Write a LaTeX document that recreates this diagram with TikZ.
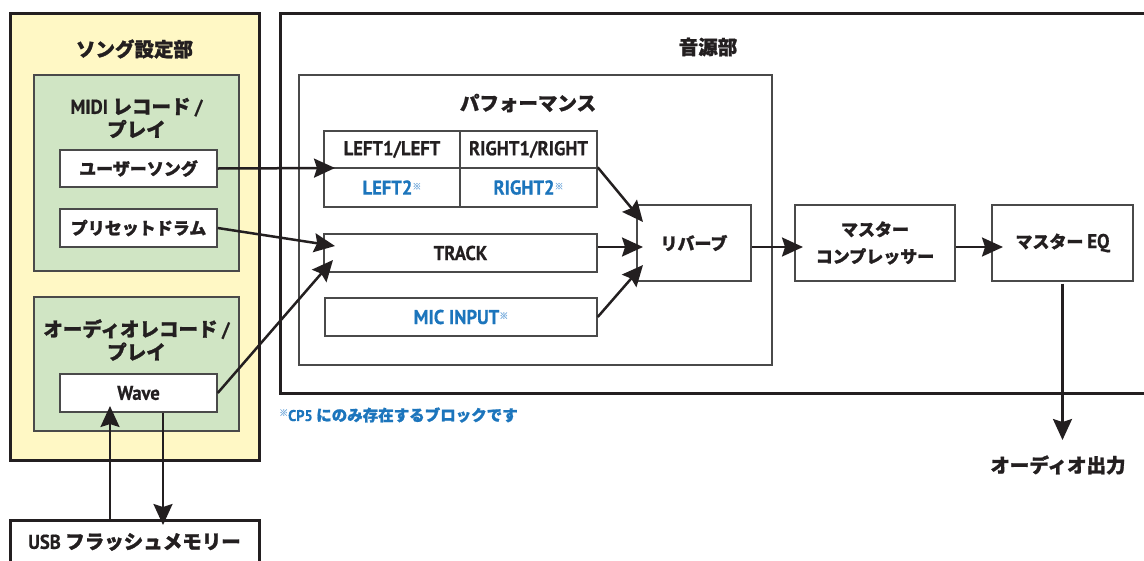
\documentclass[tikz,border=0pt]{standalone}
\usepackage{fontspec}
\setmainfont{Noto Sans CJK JP}[BoldFeatures={FakeBold=1.3}]
\newfontfamily\latfont{PT Sans}[FakeStretch=0.93, BoldFeatures={FakeBold=0.6}]
\usetikzlibrary{arrows.meta}
\definecolor{ink}{HTML}{231F20}
\definecolor{yel}{HTML}{FFF8C5}
\definecolor{grn}{HTML}{D0E5C4}
\definecolor{blu}{HTML}{1C75BC}
\definecolor{lblu}{HTML}{7EB0DE}
\definecolor{edge}{HTML}{4A4A4A}
\newcommand{\kome}{\raisebox{5pt}{\fontsize{9}{9}\selectfont\color{lblu}※}}
\newcommand{\lat}[1]{{\latfont\bfseries\fontsize{20}{24}\selectfont #1}}
\newcommand{\latc}[1]{{\latfont\bfseries\fontsize{15.5}{18}\selectfont #1}}
\tikzset{
 thickbox/.style={draw=ink, line width=3pt, inner sep=0pt},
 thinbox/.style={draw=edge, line width=1.4pt, inner sep=0pt},
 lbl/.style={font=\bfseries\fontsize{17}{27}\selectfont, text=ink, align=center},
 ttl/.style={font=\bfseries\fontsize{19.5}{23}\selectfont, text=ink, align=center, inner sep=0pt},
 arr/.style={draw=ink, line width=2.5pt, -{Stealth[length=21pt,width=19pt,inset=3pt]}},
}
\begin{document}
\begin{tikzpicture}[x=1pt,y=-1pt]
\useasboundingbox (0,0) rectangle (1144,560);
\clip (0,0) rectangle (1144,560);
% song settings
\node[thickbox, fill=yel, minimum width=249pt, minimum height=447pt] (song) at (134.5,236.5) {};
\node[ttl] (songt) at (134.5,49) {ソング設定部};
\node[thinbox, fill=grn, minimum width=205pt, minimum height=196pt] (midi) at (136.5,173) {};
\node[ttl] (midit) at (136.5,118) {\lat{MIDI} レコード \lat{/}\\プレイ};
\node[thinbox, fill=white, minimum width=157pt, minimum height=37pt, lbl] (us) at (138.5,168.5) {ユーザーソング};
\node[thinbox, fill=white, minimum width=157pt, minimum height=38pt, lbl] (pd) at (138.5,228) {プリセットドラム};
\node[thinbox, fill=grn, minimum width=205pt, minimum height=134pt] (aud) at (136.5,364) {};
\node[ttl] (audt) at (136.5,340) {オーディオレコード \lat{/}\\プレイ};
\node[thinbox, fill=white, minimum width=157pt, minimum height=38pt, lbl] (wave) at (138.5,393) {\lat{Wave}};
\node[thickbox, fill=white, minimum width=249pt, minimum height=44pt, font=\bfseries\fontsize{19.5}{23}\selectfont, text=ink] (usb) at (134.5,542) {\lat{USB} フラッシュメモリー};
% tone generator
\node[thickbox, minimum width=880pt, minimum height=380pt] (main) at (720,203) {};
\node[ttl] (maint) at (708,47) {音源部};
\node[thinbox, minimum width=473pt, minimum height=290pt] (perf) at (535.5,220) {};
\node[ttl] (perft) at (528,103) {パフォーマンス};
\node[thinbox, minimum width=136pt, minimum height=37pt, lbl] (l1) at (392,149.5) {\lat{LEFT1/LEFT}};
\node[thinbox, minimum width=137pt, minimum height=37pt, lbl] (r1) at (528.5,149.5) {\lat{RIGHT1/RIGHT}};
\node[thinbox, minimum width=136pt, minimum height=39pt, lbl] (l2) at (392,187.5) {{\color{blu}\lat{LEFT2}}\kome};
\node[thinbox, minimum width=137pt, minimum height=39pt, lbl] (r2) at (528.5,187.5) {{\color{blu}\lat{RIGHT2}}\kome};
\node[thinbox, minimum width=273pt, minimum height=38pt, lbl] (track) at (460.5,253) {\lat{TRACK}};
\node[thinbox, minimum width=272pt, minimum height=38pt, lbl] (mic) at (461,317) {{\color{blu}\lat{MIC INPUT}}\kome};
\node[thinbox, minimum width=114pt, minimum height=76pt, lbl] (rev) at (694,243) {リバーブ};
\node[thinbox, minimum width=160pt, minimum height=76pt, lbl] (comp) at (875,243) {マスター\\コンプレッサー};
\node[thinbox, minimum width=141pt, minimum height=76pt, lbl] (eq) at (1062.5,243) {マスター \lat{EQ}};
\node[anchor=west, inner sep=0pt, font=\bfseries\fontsize{15.5}{18}\selectfont] (note) at (279,415) {\kome{\color{blu}\latc{CP5} にのみ存在するブロックです}};
\node[ttl] (out) at (1058,465) {オーディオ出力};
% tips
\coordinate (t1) at (335,168);
\coordinate (t2) at (335,246);
\coordinate (t3) at (333,260);
\coordinate (t4) at (643,222);
\coordinate (t5) at (643,247);
\coordinate (t6) at (643,265);
\coordinate (t7) at (803,247);
\coordinate (t8) at (1003,247);
\coordinate (t9) at (1062.5,440);
\coordinate (t10) at (110,406);
\coordinate (t11) at (163,525);
\draw[arr] (us.east) -- (t1);
\draw[arr] (pd.east) -- (t2);
\draw[arr] (wave.east) -- (t3);
\draw[arr] (r2.north east) -- (t4);
\draw[arr] (track.east |- t5) -- (t5);
\draw[arr] (mic.east) -- (t6);
\draw[arr] (rev.east |- t7) -- (t7);
\draw[arr] (comp.east |- t8) -- (t8);
\draw[arr] ([yshift=-2pt]eq.south) -- (t9);
\draw[arr] (usb.north -| t10) -- (t10);
\draw[arr] (wave.south -| t11) -- (t11);
\end{tikzpicture}
\end{document}
